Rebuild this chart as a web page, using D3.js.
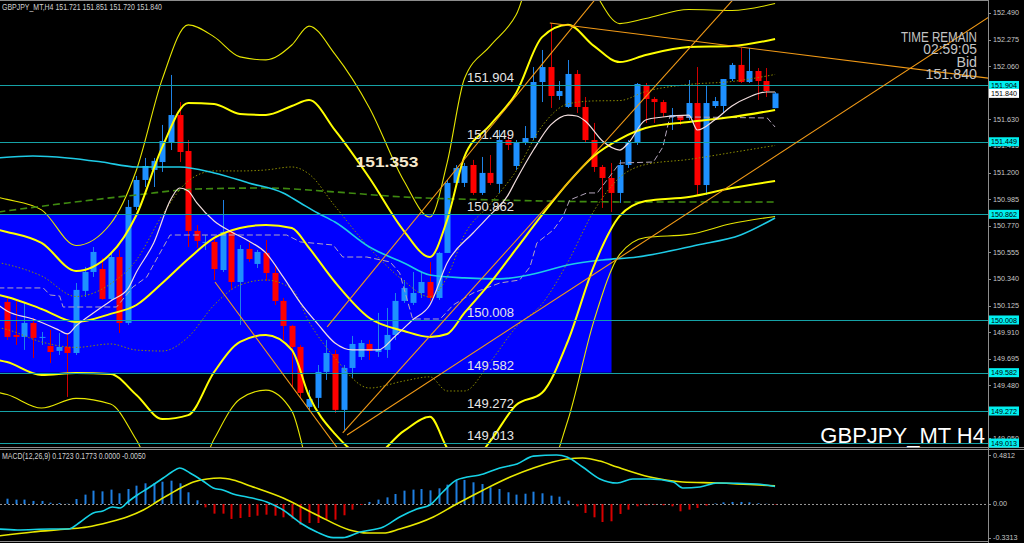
<!DOCTYPE html>
<html><head><meta charset="utf-8">
<script src="https://cdn.jsdelivr.net/npm/d3@7"></script>
<style>html,body{margin:0;padding:0;background:#000;overflow:hidden}</style>
</head><body>
<svg id="c" width="1024" height="543"></svg>
<script>
// ---------------- DATA ----------------
const headerText = "GBPJPY_MT,H4  151.721 151.851 151.720 151.840";
const macdLabel = "MACD(12,26,9) 0.1723 0.1773 0.0000 -0.0050";
const symbolText = "GBPJPY_MT H4";
const timeRemain = ["TIME REMAIN", "02:59:05", "Bid", "151.840"];
const bidPrice = 151.840;

const opens = [150.154,149.887,149.871,149.984,149.863,149.798,149.758,149.790,149.741,150.243,
150.396,150.420,150.178,150.517,149.984,150.922,151.140,151.221,151.285,151.439,
151.665,151.374,150.728,150.631,150.639,150.412,150.720,150.315,150.582,150.461,
150.550,150.388,150.162,149.960,149.790,149.305,149.378,149.588,149.733,149.281,
149.620,149.709,149.814,149.749,149.766,149.887,150.162,150.146,150.226,150.315,
150.186,150.550,151.116,151.116,151.261,151.035,151.197,151.108,151.463,151.253,
151.439,151.479,151.932,152.053,151.819,151.730,151.997,151.730,151.463,151.245,
151.156,151.035,151.261,151.447,151.900,151.795,151.770,151.649,151.657,151.641,
151.762,151.099,151.738,151.738,151.956,152.070,151.932,152.021,151.940,151.721];
const highs = [150.202,150.170,150.146,150.024,149.911,149.927,149.903,149.903,150.307,150.437,
150.598,150.509,150.558,150.574,150.978,151.172,151.318,151.318,151.585,151.989,
151.770,151.463,150.776,150.695,150.671,150.978,150.736,150.614,150.631,150.574,
150.655,150.453,150.186,149.968,149.806,149.442,149.644,149.846,149.766,149.644,
149.879,149.846,149.846,150.065,150.105,150.226,150.331,150.396,150.396,150.477,
150.558,151.140,151.261,151.277,151.302,151.326,151.342,151.544,151.520,151.463,
151.576,152.053,152.191,152.409,151.940,152.110,152.029,151.811,151.601,151.261,
151.277,151.302,151.463,151.924,151.924,151.811,151.787,151.722,151.665,151.948,
152.053,151.908,151.811,151.956,152.086,152.207,152.207,152.045,152.045,151.851];
const lows = [149.846,149.806,149.766,149.701,149.806,149.660,149.725,149.386,149.725,150.194,
150.356,150.170,150.170,149.903,149.968,150.897,151.083,151.083,151.205,151.382,
151.285,150.598,150.590,150.574,150.331,150.396,150.251,149.968,150.477,150.428,
150.323,150.129,149.846,149.466,149.378,149.281,149.297,149.523,149.256,149.119,
149.539,149.685,149.685,149.709,149.701,149.846,150.146,150.129,150.186,150.162,
150.170,150.550,151.099,151.083,151.019,151.019,151.099,151.035,151.382,151.221,
151.423,151.463,151.770,151.722,151.787,151.722,151.682,151.439,151.205,150.914,
150.881,150.954,151.237,151.423,151.601,151.601,151.649,151.544,151.585,151.625,
151.019,151.019,151.722,151.682,151.940,151.924,151.924,151.787,151.811,151.720];
const closes = [149.871,149.871,149.984,149.863,149.871,149.749,149.790,149.741,150.251,150.396,
150.558,150.178,150.517,149.984,150.922,151.140,151.253,151.294,151.455,151.665,
151.366,150.728,150.647,150.639,150.420,150.720,150.315,150.582,150.501,150.558,
150.388,150.162,149.960,149.790,149.418,149.369,149.588,149.741,149.281,149.620,
149.814,149.822,149.758,149.774,149.887,150.162,150.267,150.226,150.315,150.186,
150.550,151.116,151.237,151.253,151.035,151.197,151.116,151.463,151.423,151.439,
151.479,151.932,152.053,151.819,151.859,151.997,151.730,151.463,151.245,151.156,
151.035,151.261,151.447,151.916,151.795,151.770,151.682,151.665,151.625,151.762,
151.099,151.762,151.778,151.956,152.070,151.932,152.021,151.940,151.859,151.840];

// Bollinger bands: middle line and one-sigma width at bar indices
const bbIdx = [-1,0,4,8,12,15,18,21,24,27,30,33,35,38,42,46,49,51,53,56,59,62,65,68,71,74,79,84,89];
const bbMid = [150.210,150.194,150.097,149.992,150.057,150.129,150.307,150.501,150.671,150.752,150.776,150.752,150.590,150.315,150.024,149.919,149.871,149.895,150.065,150.307,150.582,150.857,151.116,151.334,151.471,151.560,151.609,151.649,151.706];
const bbSd  = [0.263,0.263,0.267,0.206,0.243,0.364,0.550,0.631,0.542,0.461,0.445,0.493,0.598,0.614,0.566,0.404,0.323,0.461,0.631,0.639,0.631,0.719,0.639,0.445,0.311,0.295,0.303,0.287,0.287];

const whiteMA = [[-1,150.129],[0,150.081],[3,150.016],[6,149.927],[7,149.895],[8,149.960],[10,150.065],[12,150.162],[14,150.259],[15,150.396],[17,150.631],[19,150.986],[20,151.075],[21,151.051],[22,150.954],[24,150.808],[26,150.720],[28,150.647],[30,150.550],[32,150.356],[34,150.146],[36,149.976],[38,149.822],[40,149.766],[43,149.766],[45,149.879],[47,150.008],[49,150.129],[51,150.469],[54,150.711],[56,150.857],[58,151.011],[59,151.140],[61,151.382],[63,151.585],[65,151.665],[66,151.657],[67,151.617],[69,151.455],[71,151.382],[72,151.439],[74,151.625],[76,151.649],[79,151.665],[80,151.544],[82,151.625],[84,151.738],[86,151.811],[88,151.851],[89,151.851]];
const cyanMA = [[-1,151.318],[3,151.334],[7,151.318],[11,151.285],[15,151.245],[20,151.245],[24,151.196],[28,151.116],[32,151.035],[34,150.954],[36,150.873],[38,150.800],[42,150.598],[46,150.469],[49,150.372],[53,150.348],[57,150.340],[61,150.380],[65,150.453],[69,150.493],[73,150.517],[80,150.614],[85,150.695],[89,150.833]];
const greenMA = [[-1,150.881],[7,150.954],[15,151.019],[22,151.067],[30,151.075],[38,151.043],[46,151.002],[57,150.978],[73,150.962],[89,150.962]];
const grayLine = [[-1,150.267],[4.2,150.267],[5,150.210],[6.1,150.202],[6.5,150.113],[12.7,150.113],[14.6,150.275],[16.2,150.356],[17.4,150.509],[18.9,150.695],[32.4,150.695],[34,150.639],[37.8,150.614],[38.9,150.517],[41.7,150.517],[44.4,150.477],[45.5,150.388],[47,150.016],[50.2,150.016],[51.7,150.129],[54,150.226],[57.1,150.307],[59.4,150.331],[60.6,150.437],[61.4,150.631],[63.3,150.736],[64.4,150.841],[65.2,150.978],[67.2,151.035],[68.4,151.035],[71,151.277],[74.9,151.285],[76,151.407],[76.8,151.649],[79.5,151.649],[88.1,151.641],[89,151.568]];

// trend lines: [index1, price1, index2, price2]
const trendLines = [
  [39.4,149.078,100.8,151.867],
  [38.9,149.095,84.1,152.595],
  [37.1,149.952,68.1,152.595],
  [24.1,150.315,38.2,148.981],
  [62.9,152.409,113.6,151.964]
];
const levels = [151.904,151.449,150.862,150.008,149.582,149.272,149.013];
const boxRange = {i0:-2, i1:70.05, pLow:149.582, pHigh:150.862};
const markLabel = {text:"151.353", idx:40.4, price:151.353};

// axis labels that are not fully hidden behind the price tags
const priceTicks = [152.490,152.275,152.060,151.630,151.415,151.200,150.985,150.770,150.555,150.340,150.125,149.910,149.695,149.480,149.050];
const macdTicks = [0.4812,0,-0.3313];
const macdTickLabels = ["0.4812","0.00","-0.3313"];

const macdHist = [0.052,0.043,0.043,0.030,0.030,0.013,0.010,0.003,0.049,0.092,
0.131,0.124,0.141,0.105,0.147,0.180,0.203,0.206,0.219,0.229,
0.203,0.115,0.036,-0.033,-0.095,-0.095,-0.147,-0.138,-0.128,-0.115,
-0.105,-0.115,-0.131,-0.144,-0.203,-0.187,-0.187,-0.154,-0.154,-0.111,
-0.056,-0.010,0.020,0.043,0.065,0.098,0.131,0.141,0.147,0.134,
0.154,0.190,0.229,0.236,0.213,0.196,0.164,0.147,0.115,0.092,
0.101,0.121,0.105,0.082,0.072,0.033,-0.023,-0.088,-0.131,-0.177,
-0.170,-0.098,-0.056,-0.023,-0.013,-0.007,-0.013,-0.023,-0.072,-0.056,
-0.039,-0.016,0.005,0.016,0.020,0.020,0.016,0.007,0.002,-0.005];
const macdMain = [[-1,-0.246],[1.2,-0.255],[5,-0.246],[7.1,-0.246],[8.5,-0.177],[10,-0.088],[11.1,-0.069],[12.2,-0.029],[13.1,-0.039],[14,0.020],[15.1,0.088],[16.2,0.147],[18.1,0.255],[19.1,0.314],[20,0.354],[21.2,0.305],[22.7,0.226],[23.9,0.157],[25,0.138],[26.2,0.098],[27.8,0.069],[30.1,0.020],[32,-0.059],[34,-0.187],[35.9,-0.275],[37.8,-0.331],[38.9,-0.331],[40.9,-0.275],[43.6,-0.226],[45.5,-0.128],[47.5,-0.049],[49,-0.010],[50.5,0.118],[52.1,0.236],[55.2,0.295],[57.1,0.354],[59.1,0.393],[61,0.470],[63.7,0.481],[64.9,0.462],[66.7,0.363],[68.7,0.246],[70.7,0.206],[72.5,0.246],[74.5,0.246],[77.2,0.216],[78.3,0.157],[80.3,0.167],[82.3,0.206],[86.9,0.196],[89,0.1723]];
const macdSignal = [[-1,-0.314],[3,-0.275],[7,-0.246],[9.3,-0.226],[11.9,-0.177],[13.9,-0.128],[15.8,-0.059],[17.7,0.039],[19.7,0.138],[21.6,0.216],[23.2,0.246],[24.7,0.255],[26.2,0.236],[28.2,0.177],[32,0.059],[35.9,-0.108],[39.7,-0.255],[41.7,-0.285],[43.6,-0.285],[45.5,-0.246],[49.4,-0.128],[52.1,0],[55.2,0.138],[58.3,0.265],[61,0.354],[64.9,0.442],[66.7,0.452],[68.7,0.422],[70.7,0.363],[74.5,0.265],[78.3,0.216],[82.3,0.206],[89,0.1773]];

// ---------------- DRAW ----------------
const svg = d3.select("#c");
const W = 1024, H = 543, AX = 988, MAIN_B = 447;
const FONT = "'Liberation Sans', Arial, sans-serif";
const xS = d3.scaleLinear().domain([0, 89]).range([7, 775.07]);
const yP = d3.scaleLinear().domain([148.981, 152.595]).range([MAIN_B, 0]);
const yM = d3.scaleLinear().domain([-0.3313, 0.4812]).range([537.7, 455]);

svg.append("rect").attr("width", W).attr("height", H).attr("fill", "#000");
const defs = svg.append("defs");
defs.append("clipPath").attr("id","clipMain").append("rect").attr("x",0).attr("y",0).attr("width",AX).attr("height",MAIN_B);
defs.append("clipPath").attr("id","clipMacd").append("rect").attr("x",0).attr("y",450).attr("width",AX).attr("height",91);

const gm = svg.append("g").attr("clip-path","url(#clipMain)");

// blue rectangle
gm.append("rect")
  .attr("x", xS(boxRange.i0)).attr("y", yP(boxRange.pHigh))
  .attr("width", xS(boxRange.i1) - xS(boxRange.i0))
  .attr("height", yP(boxRange.pLow) - yP(boxRange.pHigh))
  .attr("fill", "#0000ff");

// candles
const bars = d3.range(opens.length).map(i => ({i, o:opens[i], h:highs[i], l:lows[i], c:closes[i]}));
const cg = gm.append("g");
cg.selectAll("line.w").data(bars).join("line")
  .attr("x1", d => Math.round(xS(d.i)) + 0.5).attr("x2", d => Math.round(xS(d.i)) + 0.5)
  .attr("y1", d => yP(d.h)).attr("y2", d => yP(d.l))
  .attr("stroke", d => d.c >= d.o ? "#1e82e6" : "#d00000").attr("stroke-width", 1);
cg.selectAll("rect.b").data(bars).join("rect")
  .attr("x", d => Math.round(xS(d.i)) - 2.5).attr("width", 6)
  .attr("y", d => yP(Math.max(d.o, d.c)))
  .attr("height", d => Math.max(1, yP(Math.min(d.o, d.c)) - yP(Math.max(d.o, d.c))))
  .attr("fill", d => d.c >= d.o ? "#1e90ff" : "#ff0000");

const lineP = d3.line().x(d => xS(d[0])).y(d => yP(d[1])).curve(d3.curveMonotoneX);
const lineLin = d3.line().x(d => xS(d[0])).y(d => yP(d[1]));

// bollinger family
const band = k => bbIdx.map((ix, j) => [ix, bbMid[j] + k * bbSd[j]]);
[-1, 1].forEach(k => gm.append("path").attr("d", lineP(band(k))).attr("fill","none")
  .attr("stroke","#8c8c00").attr("stroke-width",1).attr("stroke-dasharray","1.5,2"));
[-3, 3].forEach(k => gm.append("path").attr("d", lineP(band(k))).attr("fill","none")
  .attr("stroke","#e6e600").attr("stroke-width",1.1));

// long MAs
gm.append("path").attr("d", lineP(greenMA)).attr("fill","none")
  .attr("stroke","#3f8a10").attr("stroke-width",1.6).attr("stroke-dasharray","7,4");
gm.append("path").attr("d", lineLin(grayLine)).attr("fill","none")
  .attr("stroke","#b4a6bc").attr("stroke-width",1).attr("stroke-dasharray","6,3");
gm.append("path").attr("d", lineP(cyanMA)).attr("fill","none")
  .attr("stroke","#1ecbe6").attr("stroke-width",1.6);

[-2, 0, 2].forEach(k => gm.append("path").attr("d", lineP(band(k))).attr("fill","none")
  .attr("stroke","#ffff00").attr("stroke-width",2));

gm.append("path").attr("d", lineP(whiteMA)).attr("fill","none")
  .attr("stroke","#f2dede").attr("stroke-width",1.2);

// level lines
gm.selectAll("line.lv").data(levels).join("line")
  .attr("x1",0).attr("x2",AX).attr("y1", d => Math.round(yP(d))+0.5).attr("y2", d => Math.round(yP(d))+0.5)
  .attr("stroke","#16a2a6").attr("stroke-width",1);

// trend lines (rays)
trendLines.forEach(t => {
  const [i1,p1,i2,p2] = t;
  const slope = (p2 - p1) / (i2 - i1);
  const iEnd = 130;
  gm.append("line")
    .attr("x1", xS(i1)).attr("y1", yP(p1))
    .attr("x2", xS(iEnd)).attr("y2", yP(p1 + slope * (iEnd - i1)))
    .attr("stroke","#f29a16").attr("stroke-width",1.1);
});

// level labels
gm.selectAll("text.lv").data(levels).join("text")
  .attr("x", xS(53.3)).attr("y", d => yP(d) - 3)
  .attr("fill","#e6e6e6").attr("font-family",FONT).attr("font-size",13)
  .text(d => d.toFixed(3));

gm.append("text").attr("transform", `translate(${xS(markLabel.idx)},${yP(markLabel.price) + 13}) scale(1.12,1)`)
  .attr("fill","#f6e8cc").attr("font-family",FONT).attr("font-size",15.5).attr("font-weight","bold")
  .text(markLabel.text);

// ---- MACD pane ----
const gd = svg.append("g").attr("clip-path","url(#clipMacd)");
gd.append("line").attr("x1",0).attr("x2",AX).attr("y1",yM(0)+0.5).attr("y2",yM(0)+0.5)
  .attr("stroke","#9a9a9a").attr("stroke-width",1).attr("stroke-dasharray","2,2");
gd.selectAll("line.h").data(macdHist).join("line")
  .attr("x1",(d,i)=>Math.round(xS(i))+0.5).attr("x2",(d,i)=>Math.round(xS(i))+0.5)
  .attr("y1", yM(0)).attr("y2", d => yM(d))
  .attr("stroke", d => d >= 0 ? "#1e7ee0" : "#d80000").attr("stroke-width",2);
const lineM = d3.line().x(d => xS(d[0])).y(d => yM(d[1])).curve(d3.curveMonotoneX);
gd.append("path").attr("d", lineM(macdSignal)).attr("fill","none").attr("stroke","#e8e800").attr("stroke-width",1.6);
gd.append("path").attr("d", lineM(macdMain)).attr("fill","none").attr("stroke","#16d2e6").attr("stroke-width",1.6);

// ---- frames ----
const frame = "#8c8c8c";
svg.append("line").attr("x1",0).attr("x2",AX).attr("y1",0.5).attr("y2",0.5).attr("stroke",frame);
svg.append("line").attr("x1",0).attr("x2",W).attr("y1",447.5).attr("y2",447.5).attr("stroke",frame);
svg.append("line").attr("x1",0).attr("x2",W).attr("y1",449.5).attr("y2",449.5).attr("stroke",frame);
svg.append("line").attr("x1",0).attr("x2",AX).attr("y1",541.5).attr("y2",541.5).attr("stroke",frame);
svg.append("line").attr("x1",AX+0.5).attr("x2",AX+0.5).attr("y1",0).attr("y2",H).attr("stroke",frame);

// right axis ticks
const axG = svg.append("g").attr("font-family",FONT).attr("font-size",7.2);
priceTicks.forEach(p => {
  const y = yP(p);
  axG.append("line").attr("x1",AX).attr("x2",AX+3).attr("y1",Math.round(y)+0.5).attr("y2",Math.round(y)+0.5).attr("stroke",frame);
  axG.append("text").attr("x",993).attr("y",y+2.5).attr("fill","#c8c8c8").text(p.toFixed(3));
});
macdTicks.forEach((v,k) => {
  const y = yM(v);
  axG.append("line").attr("x1",AX).attr("x2",AX+3).attr("y1",Math.round(y)+0.5).attr("y2",Math.round(y)+0.5).attr("stroke",frame);
  axG.append("text").attr("x",993).attr("y",y+2.5).attr("fill","#c8c8c8").text(macdTickLabels[k]);
});
// tags
levels.forEach(p => {
  const y = yP(p);
  axG.append("rect").attr("x",989).attr("y",y-4.5).attr("width",30).attr("height",9).attr("fill","#00f0f0");
  axG.append("text").attr("x",991).attr("y",y+2.6).attr("fill","#000").text(p.toFixed(3));
});
{
  const y = yP(bidPrice);
  axG.append("rect").attr("x",989).attr("y",y-4.5).attr("width",30).attr("height",9).attr("fill","#ffffff");
  axG.append("text").attr("x",991).attr("y",y+2.6).attr("fill","#000").text(bidPrice.toFixed(3));
}

// texts
svg.append("text").attr("transform","translate(2,10) scale(0.82,1)").attr("fill","#d0d0d0").attr("font-family",FONT)
  .attr("font-size",8.5).text(headerText);
svg.append("text").attr("transform","translate(2,459) scale(0.82,1)").attr("fill","#d0d0d0").attr("font-family",FONT)
  .attr("font-size",8.5).text(macdLabel);
svg.append("text").attr("x",985).attr("y",443).attr("text-anchor","end").attr("fill","#ffffff")
  .attr("font-family",FONT).attr("font-size",22).text(symbolText);

const trY = [41.5, 53.5, 66.5, 79], trSX = [0.8, 0.92, 0.95, 0.92], trFS = [14.5, 15, 15, 15.5];
timeRemain.forEach((t,k) => {
  svg.append("text").attr("transform",`translate(977,${trY[k]}) scale(${trSX[k]},1)`).attr("text-anchor","end").attr("fill","#c4c4c4")
    .attr("font-family",FONT).attr("font-size",trFS[k]).text(t);
});
</script>
</body></html>
